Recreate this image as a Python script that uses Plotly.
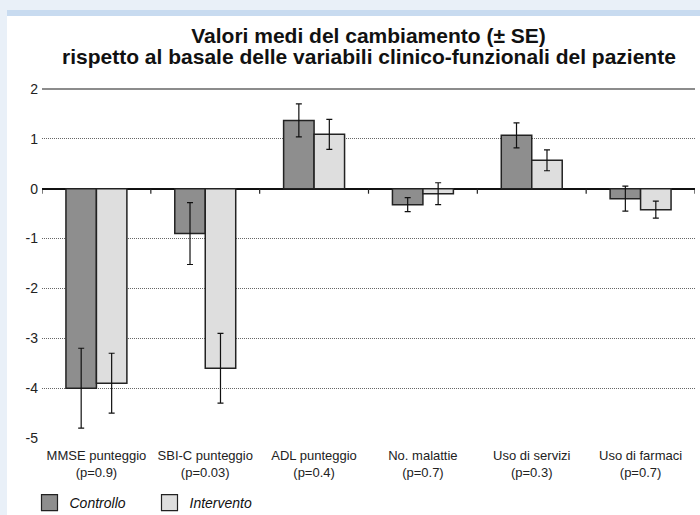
import plotly.graph_objects as go

categories = ["MMSE punteggio<br>(p=0.9)", "SBI-C punteggio<br>(p=0.03)", "ADL punteggio<br>(p=0.4)",
              "No. malattie<br>(p=0.7)", "Uso di servizi<br>(p=0.3)", "Uso di farmaci<br>(p=0.7)"]
controllo = [-4.0, -0.9, 1.37, -0.32, 1.07, -0.2]
controllo_se = [0.8, 0.62, 0.33, 0.14, 0.25, 0.25]
intervento = [-3.9, -3.6, 1.09, -0.1, 0.57, -0.42]
intervento_se = [0.6, 0.7, 0.3, 0.22, 0.21, 0.17]
y_ticks = [2, 1, 0, -1, -2, -3, -4, -5]
title_line1 = "Valori medi del cambiamento (± SE)"
title_line2 = "rispetto al basale delle variabili clinico-funzionali del paziente"

FONT = "Liberation Sans, Arial, sans-serif"
idx = list(range(len(categories)))

fig = go.Figure()
fig.add_trace(go.Bar(
    x=idx, y=controllo, name="Controllo", showlegend=False,
    marker=dict(color="#8e8e8e", line=dict(color="#222222", width=1.5)),
    error_y=dict(type="data", array=controllo_se, color="#111111", thickness=1.2, width=3),
))
fig.add_trace(go.Bar(
    x=idx, y=intervento, name="Intervento", showlegend=False,
    marker=dict(color="#dedede", line=dict(color="#222222", width=1.5)),
    error_y=dict(type="data", array=intervento_se, color="#111111", thickness=1.2, width=3),
))
# legend entries
fig.add_trace(go.Scatter(x=[None], y=[None], mode="markers", name="Controllo",
                         marker=dict(symbol="square", size=16, color="#8e8e8e",
                                     line=dict(color="#222222", width=1.2))))
fig.add_trace(go.Scatter(x=[None], y=[None], mode="markers", name="Intervento",
                         marker=dict(symbol="square", size=16, color="#dedede",
                                     line=dict(color="#222222", width=1.2))))

shapes = []
# page background decoration
shapes.append(dict(type="rect", xref="paper", yref="paper", layer="below",
                   x0=-35/653, x1=1.2, y0=-0.3, y1=(439-16)/351,
                   fillcolor="white", line=dict(width=0)))
shapes.append(dict(type="rect", xref="paper", yref="paper", layer="below",
                   x0=-35/653, x1=1.2, y0=(439-16)/351, y1=(439-10)/351,
                   fillcolor="#c8dbf0", line=dict(width=0)))
# solid top line at y=2
shapes.append(dict(type="line", xref="paper", yref="y", x0=0, x1=1, y0=2, y1=2,
                   line=dict(color="#666666", width=1.5)))
# tick marks on the zero line at category boundaries
for i in range(len(categories) + 1):
    shapes.append(dict(type="line", xref="x", yref="y", x0=i - 0.5, x1=i - 0.5,
                       y0=0, y1=-0.1, line=dict(color="#222222", width=1.2)))

fig.update_layout(
    width=700, height=515,
    margin=dict(l=42, r=5, t=88, b=76),
    paper_bgcolor="#e9f0f8",
    plot_bgcolor="white",
    barmode="group", bargap=0.44, bargroupgap=0,
    font=dict(family=FONT, color="#111111"),
    title=dict(text="<b>" + title_line1 + "</b>",
               x=0.5, xref="paper", xanchor="center", y=1 - 36/515, yanchor="middle",
               font=dict(size=21, family=FONT, color="#111111")),
    annotations=[dict(text="<b>" + title_line2 + "</b>", xref="paper", yref="paper",
                      x=0.5, xanchor="center", y=(439 - 56.5) / 351, yanchor="middle",
                      showarrow=False, font=dict(size=21, family=FONT, color="#111111"))],
    xaxis=dict(tickmode="array", tickvals=idx, ticktext=categories, range=[-0.5, 5.5],
               showgrid=False, zeroline=False, showline=False, ticks="", automargin=False,
               ticklabelstandoff=7,
               tickfont=dict(size=13, family=FONT, color="#222222")),
    yaxis=dict(range=[-5.02, 2.02], tickvals=y_ticks, ticktext=[str(v) for v in y_ticks],
               showgrid=True, gridcolor="#666666", griddash="1px,1px", gridwidth=1,
               zeroline=True, zerolinecolor="#111111", zerolinewidth=2.2,
               showline=False, ticks="", ticklabelstandoff=3, automargin=False,
               tickfont=dict(size=14, family=FONT, color="#222222")),
    legend=dict(orientation="h", xref="container", yref="container",
                x=29.5/700, xanchor="left", y=(515-503)/515, yanchor="middle",
                entrywidth=75, entrywidthmode="pixels",
                font=dict(size=14, family=FONT, color="#111111", style="italic"),
                bgcolor="rgba(0,0,0,0)", itemsizing="trace"),
    shapes=shapes,
)

fig.write_html("out.html", config={"displayModeBar": False},
               post_script="document.body.style.margin='0';document.body.style.overflow='hidden';")
